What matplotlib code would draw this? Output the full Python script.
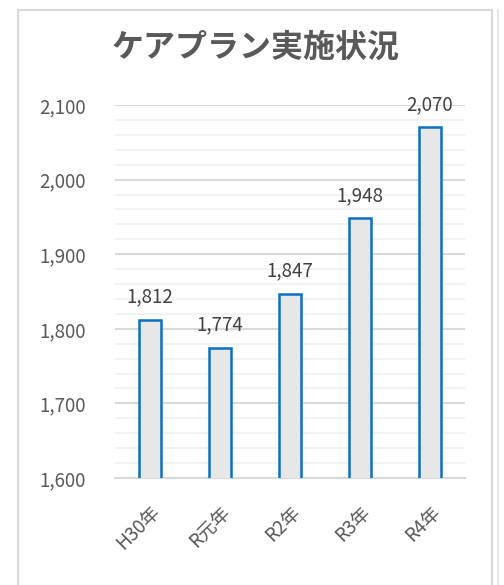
import matplotlib
matplotlib.use("Agg")
import matplotlib.pyplot as plt
from matplotlib.patches import Rectangle
from matplotlib.lines import Line2D
from matplotlib.ticker import MultipleLocator, FuncFormatter

plt.rcParams['font.family'] = ['Noto Sans CJK JP', 'DejaVu Sans']

title = "ケアプラン実施状況"
categories = ["H30年", "R元年", "R2年", "R3年", "R4年"]
values = [1812, 1774, 1847, 1948, 2070]
y_min, y_max = 1600, 2100

W, H = 504, 585
fig = plt.figure(figsize=(W / 100, H / 100), dpi=100)
fig.patch.set_facecolor("white")

# outer chart frame
fig.add_artist(Rectangle((18 / W, -0.05), (492 - 18) / W, 1.05 - 10 / H,
                         transform=fig.transFigure, fill=False,
                         edgecolor="#d9d9d9", linewidth=1.5))
fig.add_artist(Line2D([498 / W, 498 / W], [0, 1 - 10 / H], transform=fig.transFigure,
                      color="#e3e3e3", linewidth=1.2))

ax = fig.add_axes([115 / W, 1 - 478 / H, (465 - 115) / W, (478 - 105) / H])
x = range(len(categories))
ax.bar(x, values, width=0.31, bottom=0, color="#e7e7e7", edgecolor="#0a70c4",
       linewidth=1.8, zorder=3)
ax.set_xlim(-0.5, len(categories) - 0.5)
ax.set_ylim(y_min, y_max)

ax.yaxis.set_major_locator(MultipleLocator(100))
ax.yaxis.set_minor_locator(MultipleLocator(20))
ax.yaxis.set_major_formatter(FuncFormatter(lambda v, p: f"{int(v):,}"))
ax.grid(which="major", axis="y", color="#d9d9d9", linewidth=1.5, zorder=0)
ax.grid(which="minor", axis="y", color="#f0f0f0", linewidth=1.2, zorder=0)
ax.set_axisbelow(True)

for s in ["top", "right", "left"]:
    ax.spines[s].set_visible(False)
ax.spines["bottom"].set_color("#d9d9d9")
ax.spines["bottom"].set_linewidth(1.5)

ax.tick_params(axis="both", which="both", length=0)
ax.tick_params(axis="y", labelsize=13.5, labelcolor="#595959", pad=21)
ax.set_xticks(list(x))
ax.set_xticklabels(categories, rotation=45, ha="right", va="top",
                   rotation_mode="anchor", fontsize=13.5, color="#595959")
ax.tick_params(axis="x", pad=17)

for i, v in zip(x, values):
    ax.annotate(f"{v:,}", (i, v), xytext=(0, 9), textcoords="offset points",
                ha="center", va="bottom", fontsize=13.5, color="#404040", zorder=4)

fig.text(256 / W, 1 - 48 / H, title, ha="center", va="center", fontsize=23,
         fontweight="bold", color="#595959")

fig.savefig("out.png", dpi=100, facecolor="white")
